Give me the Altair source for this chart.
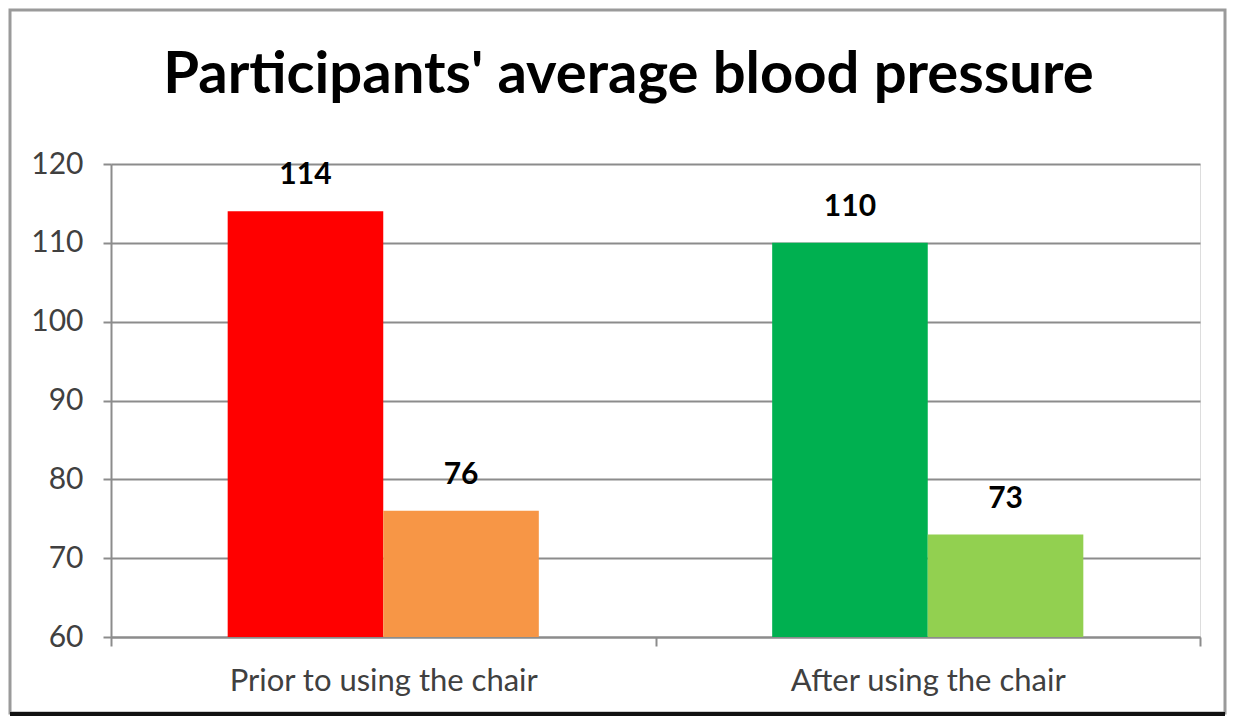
import altair as alt
import pandas as pd

categories = ["Prior to using the chair", "Prior to using the chair",
              "After using the chair", "After using the chair"]
series = ["Systolic", "Diastolic", "Systolic", "Diastolic"]
values = [114, 76, 110, 73]
bar_keys = ["prior_sys", "prior_dia", "after_sys", "after_dia"]
bar_colors = ["#FF0000", "#F79646", "#00B050", "#92D050"]
cat_order = ["Prior to using the chair", "After using the chair"]
series_order = ["Systolic", "Diastolic"]
y_ticks = [60, 70, 80, 90, 100, 110, 120]

df = pd.DataFrame({"category": categories, "series": series,
                   "value": values, "bar": bar_keys})

W, H = 1089, 473
FONT = "Lato"
GRID = "#8c8c8c"

x_enc = alt.X("category:N", sort=cat_order,
              scale=alt.Scale(paddingInner=0, paddingOuter=0),
              axis=alt.Axis(title=None, labelAngle=0, tickBand="extent",
                            labelFont=FONT, labelFontSize=31, labelColor="#404040",
                            labelLimit=0,
                            labelPadding=20, tickSize=9, tickColor=GRID,
                            domainColor=GRID, domainWidth=2, tickWidth=2,
                            grid=False))
xo_enc = alt.XOffset("series:N", sort=series_order,
                     scale=alt.Scale(paddingOuter=0.75, paddingInner=0))
y_enc = alt.Y("value:Q",
              scale=alt.Scale(domain=[60, 120], nice=False, zero=False),
              axis=alt.Axis(title=None, values=y_ticks, labelFont=FONT,
                            labelFontSize=30, labelColor="#404040",
                            labelPadding=20, tickSize=8, tickColor=GRID,
                            tickWidth=2, domainColor=GRID, domainWidth=2,
                            grid=True, gridColor=GRID, gridWidth=2))

base = alt.Chart(df)

bars = base.mark_bar().encode(
    x=x_enc, xOffset=xo_enc, y=y_enc, y2=alt.datum(60),
    color=alt.Color("bar:N", scale=alt.Scale(domain=bar_keys, range=bar_colors),
                    legend=None),
)

labels = base.mark_text(dy=-36, baseline="middle", font=FONT, fontSize=30,
                        fontWeight="bold", color="black").encode(
    x=x_enc, xOffset=xo_enc, y=y_enc, text=alt.Text("value:Q"))

frame_df = pd.DataFrame({"k": [0]})
frame = alt.Chart(frame_df).mark_rect(fill=None, stroke="#9a9a9a",
                                      strokeWidth=3, clip=False).encode(
    x=alt.value(-101), x2=alt.value(W + 25),
    y=alt.value(-154), y2=alt.value(H + 76))
bottom = alt.Chart(frame_df).mark_rule(stroke="#111111", strokeWidth=4,
                                       clip=False).encode(
    x=alt.value(-101), x2=alt.value(W + 25), y=alt.value(H + 77))

chart = alt.layer(frame, bottom, bars, labels).properties(
    width=W, height=H,
    title=alt.TitleParams("Participants' average blood pressure", font=FONT,
                          fontSize=58, fontWeight="bold", color="black",
                          anchor="middle", dx=-27, baseline="alphabetic",
                          offset=-142),
    autosize=alt.AutoSizeParams(type="none"),
    padding={"left": 103, "top": 156, "right": 27, "bottom": 79},
).configure_view(stroke=None).configure(background="white")

chart.save("out.html", embed_options={"renderer": "svg", "actions": False})
